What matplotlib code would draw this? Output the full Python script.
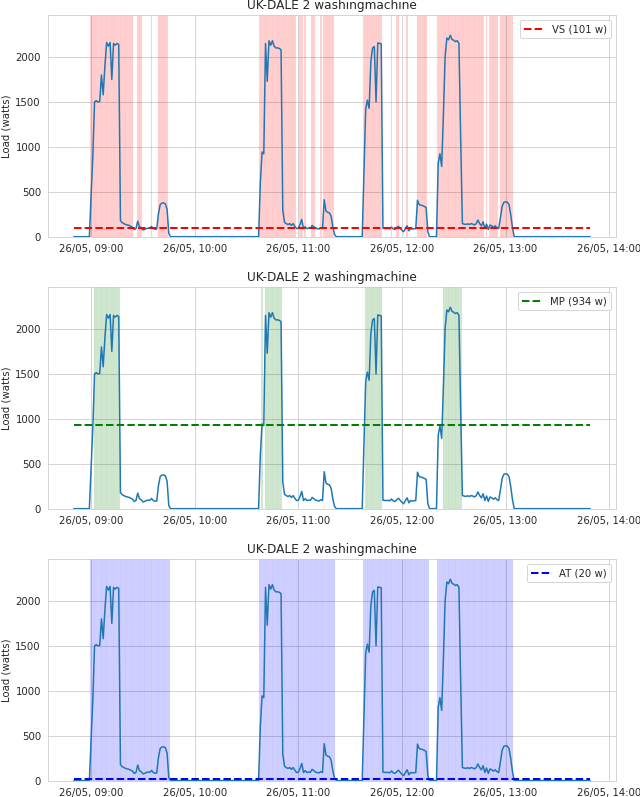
import matplotlib
matplotlib.use('Agg')
import matplotlib.pyplot as plt
import matplotlib.dates as mdates
import pandas as pd
import seaborn as sns

START = '2013-05-26 08:50'
FREQ = '1min'
LOAD = [
    5, 5, 5, 5, 5, 5, 5, 5, 5, 5,                              # 0-9
    450, 900, 1500, 1515, 1500, 1505, 1800, 1580, 1900, 2160,  # 10-19
    2120, 2160, 1750, 2150, 2130, 2150, 2140, 185, 160, 150,   # 20-29
    140, 135, 130, 120, 110, 85, 95, 178, 115, 104,            # 30-39
    80, 85, 95, 100, 98, 118, 95, 88, 90, 260,                 # 40-49
    360, 378, 380, 370, 310, 40, 5, 5, 5, 5,                   # 50-59
    5, 5, 5, 5, 5, 5, 5, 5, 5, 5,                              # 60-69
    5, 5, 5, 5, 5, 5, 5, 5, 5, 5,                              # 70-79
    5, 5, 5, 5, 5, 5, 5, 5, 5, 5,                              # 80-89
    5, 5, 5, 5, 5, 5, 5, 5, 5, 5,                              # 90-99
    5, 5, 5, 5, 5, 5, 5, 5, 600, 945,                          # 100-109
    925, 2150, 1730, 2180, 2130, 2180, 2120, 2100, 2100, 2095, # 110-119
    2080, 300, 165, 150, 140, 150, 130, 150, 120, 95,          # 120-129
    98, 140, 196, 95, 115, 95, 100, 98, 130, 115,              # 130-139
    98, 95, 90, 105, 95, 415, 290, 275, 270, 230,              # 140-149
    110, 30, 5, 5, 5, 5, 5, 5, 5, 5,                           # 150-159
    5, 5, 5, 5, 5, 5, 5, 5, 700, 1420,                         # 160-169
    1520, 1430, 1950, 2100, 2115, 1500, 2155, 2150, 2145, 98,  # 170-179
    96, 95, 97, 92, 112, 90, 85, 105, 120, 98,                 # 180-189
    75, 60, 95, 125, 70, 95, 90, 92, 95, 410,                  # 190-199
    360, 355, 350, 340, 330, 60, 5, 5, 5, 5,                   # 200-209
    5, 820, 925, 785, 1350, 2000, 2210, 2190, 2240, 2195,      # 210-219
    2185, 2170, 2180, 2150, 1100, 150, 145, 140, 148, 140,     # 220-229
    150, 145, 135, 150, 190, 150, 125, 170, 95, 145,           # 230-239
    85, 135, 125, 110, 125, 105, 95, 210, 340, 385,            # 240-249
    392, 388, 360, 250, 105, 5, 5, 5, 5, 5,                    # 250-259
    5, 5, 5, 5, 5, 5, 5, 5, 5, 5,                              # 260-269
    5, 5, 5, 5, 5, 5, 5, 5, 5, 5,                              # 270-279
    5, 5, 5, 5, 5, 5, 5, 5, 5, 5,                              # 280-289
    5, 5, 5, 5, 5, 5, 5, 5, 5, 5,                              # 290-299
]
TITLE = 'UK-DALE 2 washingmachine'
METHODS = ['VS', 'MP', 'AT']
THRESHOLDS = [101, 934, 20]
COLORS = ['r', 'g', 'b']

sns.set_style('whitegrid')

times = pd.date_range(START, periods=len(LOAD), freq=FREQ)
tnum = mdates.date2num(times.to_pydatetime())
half = (tnum[1] - tnum[0]) / 2

DPI = 72.5
fig, axes = plt.subplots(3, 1, figsize=(640 / DPI, 797 / DPI), dpi=DPI)
fig.subplots_adjust(left=0.075, right=0.9625, top=0.981, bottom=0.020, hspace=0.225)

for ax, m, th, c in zip(axes, METHODS, THRESHOLDS, COLORS):
    ax.plot(tnum, LOAD, color='#1f77b4', lw=1.5)
    ax.plot(tnum, [th] * len(LOAD), '--', color=c, lw=2, label=f'{m} ({th} w)')
    for t, v in zip(tnum, LOAD):
        if v > th:
            ax.axvspan(t - half, t + half, facecolor=c, edgecolor=c,
                       lw=0.15, alpha=0.17)
    ax.set_title(TITLE)
    ax.set_ylabel('Load (watts)')
    ax.set_ylim(0, max(LOAD) * 1.1)
    ax.xaxis.set_major_locator(mdates.HourLocator())
    ax.xaxis.set_major_formatter(mdates.DateFormatter('%d/%m, %H:%M'))
    ax.legend(loc='upper right')

fig.savefig('out.png', dpi=DPI)
